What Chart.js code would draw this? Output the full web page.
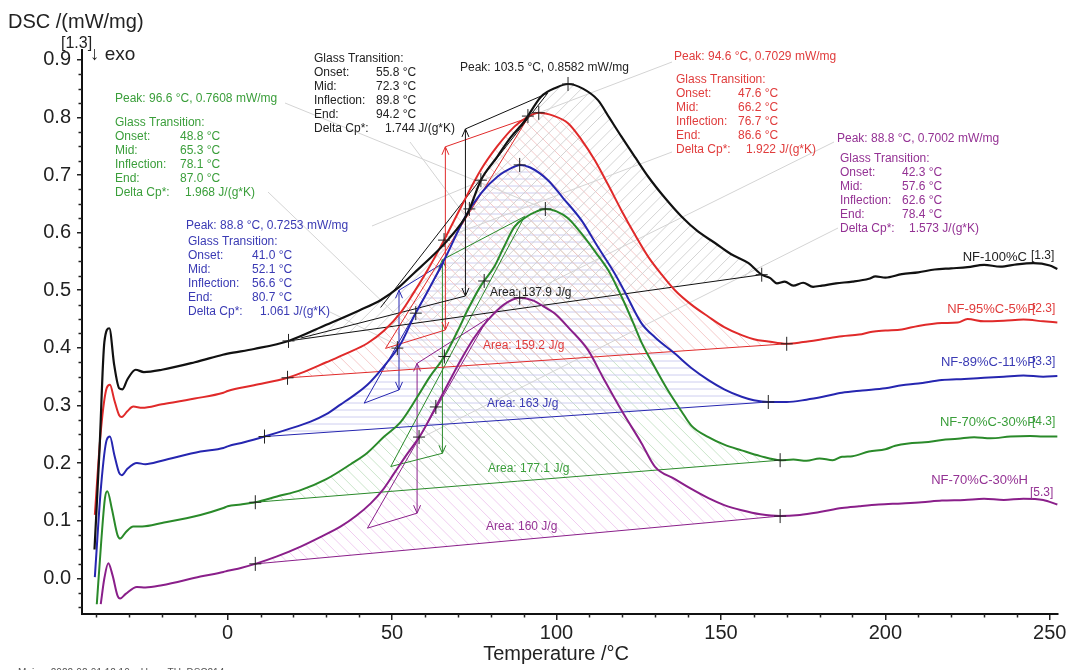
<!DOCTYPE html>
<html><head><meta charset="utf-8">
<script src="https://cdn.jsdelivr.net/npm/chart.js@4.4.1/dist/chart.umd.min.js"></script>
<style>html,body{margin:0;padding:0;background:#fff;}canvas{display:block;}</style>
</head><body>
<canvas id="c" width="1076" height="670" style="width:1076px;height:670px"></canvas>
<script>
// ---------- data ----------
const seriesNames = ['NF-100%C','NF-95%C-5%P','NF-89%C-11%P','NF-70%C-30%P','NF-70%C-30%H'];
const seriesTags  = ['[1.3]','[2.3]','[3.3]','[4.3]','[5.3]'];

const tBlack = [-40.5,-39,-37.5,-36,-34.5,-33,-32,-30.5,-28,-25.5,-20,-10,-1.5,0,8,18.5,30,40,46.6,52,56.7,62,66.9,73,77,82,86,90.2,95.3,100,103.5,108,112.6,116,119.7,124,127.9,133,138,143,148.2,153,158.4,162.4,165,167,169.4,172,175,178,180.7,185,190,195,197,200,205,210,215,220,225,230,235,240,245,250,252.3];
const vBlack = [0.05,0.22,0.41,0.434,0.37,0.33,0.328,0.345,0.362,0.358,0.362,0.375,0.388,0.390,0.398,0.412,0.44,0.465,0.483,0.505,0.53,0.558,0.587,0.634,0.691,0.732,0.765,0.793,0.836,0.852,0.858,0.85,0.83,0.80,0.767,0.73,0.697,0.66,0.628,0.602,0.582,0.563,0.547,0.527,0.521,0.512,0.515,0.508,0.513,0.506,0.508,0.512,0.515,0.52,0.524,0.522,0.528,0.531,0.536,0.538,0.54,0.544,0.541,0.545,0.547,0.543,0.537];

const tRed = [-40.4,-38.5,-36.8,-35.8,-34.5,-33,-32.2,-30.5,-28.7,-26,-20,-10,-1.3,0,8,18.2,22.2,30,36,42.5,47.6,52.7,56.5,60.8,65.8,71,77,82,87.2,91,94.6,99,103.5,107.5,111.6,115.7,119.7,124,127.9,132,136,141,146.2,151,156.3,160,164.4,170,175,180,186.8,192,196,200,205,210,217.2,222,225,230,236,242,248,252.3];
const vRed = [0.11,0.26,0.33,0.336,0.31,0.283,0.28,0.29,0.298,0.296,0.302,0.312,0.322,0.325,0.335,0.348,0.356,0.375,0.39,0.408,0.43,0.462,0.495,0.535,0.587,0.645,0.709,0.75,0.784,0.80,0.808,0.803,0.79,0.762,0.726,0.683,0.639,0.595,0.558,0.527,0.5,0.475,0.454,0.436,0.422,0.415,0.411,0.407,0.41,0.414,0.42,0.423,0.428,0.43,0.432,0.438,0.443,0.444,0.45,0.446,0.447,0.449,0.446,0.444];

const tBlue = [-40.4,-38.5,-36.8,-35.8,-34.5,-33,-32.2,-30.5,-27.6,-25,-20,-8.3,-1.3,0,5,11.2,18,25.2,30,34.4,38.5,42.5,47.5,52.7,56.7,61,66.5,72,77,82,87,88.8,92,97.4,102,107.5,112.5,117.6,120.5,125.8,130,136,141,146.2,151,156.3,160,164.4,170,176,181,186.8,193,200,205,210,217.2,224,230,236,242,248,252.3];
const vBlue = [0.002,0.16,0.24,0.246,0.215,0.183,0.179,0.19,0.2,0.198,0.204,0.22,0.226,0.229,0.236,0.246,0.258,0.272,0.285,0.302,0.318,0.336,0.368,0.408,0.455,0.5,0.56,0.625,0.668,0.697,0.714,0.7175,0.713,0.691,0.66,0.622,0.576,0.53,0.5,0.443,0.418,0.39,0.365,0.344,0.328,0.315,0.309,0.306,0.306,0.31,0.315,0.322,0.326,0.33,0.335,0.338,0.344,0.346,0.348,0.35,0.352,0.35,0.351];

const tGreen = [-39.8,-38.5,-37.3,-36.6,-35.2,-33.5,-32.7,-31,-28.7,-26,-20,-8.3,-1.3,0,4,8.4,15,22.2,30,37.4,42.5,47.6,52.7,57.7,61.5,65.9,70,73,77,81.1,84,87.2,91,94,96.6,100,103.5,107.5,112,115.7,118,120.5,123.8,125.8,130,134,138,141,146.2,151,156.3,162,168,172,176,180,184,186.8,190,195,200,203,207,212,217.2,222,227,232,238,244,248,252.3];
const vGreen = [-0.045,0.06,0.14,0.151,0.12,0.075,0.069,0.08,0.09,0.09,0.096,0.11,0.122,0.125,0.128,0.132,0.142,0.153,0.172,0.198,0.218,0.246,0.272,0.315,0.35,0.385,0.43,0.466,0.508,0.541,0.575,0.61,0.628,0.637,0.641,0.637,0.625,0.599,0.565,0.535,0.51,0.48,0.437,0.41,0.365,0.325,0.29,0.265,0.245,0.232,0.222,0.212,0.205,0.206,0.204,0.208,0.205,0.211,0.212,0.22,0.224,0.23,0.234,0.236,0.24,0.242,0.245,0.243,0.246,0.247,0.246,0.246];

const tPurple = [-38.6,-37.5,-36.3,-35,-33.5,-32.7,-31,-27.6,-25,-20,-8.3,-1.3,0,4,8.4,15,22.2,28,34.4,39,43.5,47,50.6,54.5,58.8,62.8,66.5,70.9,75,79.1,84,88.8,93,96,99.4,104,109.6,114,119.7,125.8,129.9,136,141,146.2,151,156.3,162,168,174,180,186.8,192,198,205,211,217.2,224,230,236,242,248,252.3];
const vPurple = [-0.045,0.0,0.026,0.005,-0.03,-0.035,-0.027,-0.015,-0.016,-0.012,0.003,0.011,0.013,0.018,0.025,0.038,0.055,0.071,0.09,0.108,0.13,0.152,0.182,0.215,0.25,0.292,0.332,0.379,0.418,0.448,0.475,0.487,0.482,0.472,0.46,0.433,0.396,0.35,0.292,0.235,0.194,0.172,0.155,0.139,0.127,0.118,0.111,0.108,0.11,0.115,0.122,0.125,0.128,0.13,0.132,0.135,0.136,0.138,0.136,0.138,0.136,0.128];

// evaluation results
const peakT   = [103.5, 94.6, 88.8, 96.6, 88.8];
const peakV   = [0.8582, 0.7029, 0.7253, 0.7608, 0.7002];
const gtOnset = [55.8, 47.6, 41.0, 48.8, 42.3];
const gtMid   = [72.3, 66.2, 52.1, 65.3, 57.6];
const gtInfl  = [89.8, 76.7, 56.6, 78.1, 62.6];
const gtEnd   = [94.2, 86.6, 80.7, 87.0, 78.4];
const gtDcp   = ['1.744','1.922','1.061','1.968','1.573'];
const areas   = ['137.9','159.2','163','177.1','160'];
const baseStartT = [18.5, 18.2, 11.2, 8.4, 8.4];
const baseEndT   = [162.4, 170, 164.4, 168, 168];
// glass-transition construction (arrow ends, extrapolated lines)
const gtTopV = [0.78, 0.749, 0.50, 0.553, 0.373];
const gtBotV = [0.49, 0.431, 0.327, 0.217, 0.113];
const gtLowT = [22.2, 48, 41.5, 49.6, 42.5];
const gtLowV = [0.417, 0.399, 0.304, 0.194, 0.087];
const gtTanT = [46.5, 48, 41.5, 49.6, 42.5];
const gtTanV = [0.47, 0.399, 0.304, 0.194, 0.087];
const gtUpT  = [97.3, 91.3, 65.8, 90.3, 79.1];
const gtUpV  = [0.842, 0.799, 0.548, 0.628, 0.451];
const extraCrossT = [[73.5,77,91.3],[65.8],[51.6,57.2],[65.9,78],[58.2,63.3]];

const allT = [tBlack,tRed,tBlue,tGreen,tPurple];
const allV = [vBlack,vRed,vBlue,vGreen,vPurple];

// ---------- styles ----------
const lineColors = ['#111111','#e02a2a','#2626b0','#2a8a2a','#8a1f8a'];
const textColors = ['#222222','#e03c3c','#3a3ab4','#3a9e3a','#943294'];
const hatchColors = ['#cfcfcf','#f4c4c4','#c8c8ee','#c4e2c4','#eec6ee'];
const hatchDir = ['/','\\','-','\\','\\'];
const FONT = '"Liberation Sans", Arial, sans-serif';

function interp(ts, vs, t){
  for(let i=0;i<ts.length-1;i++){
    if(t>=ts[i] && t<=ts[i+1]){const f=(t-ts[i])/(ts[i+1]-ts[i]);return vs[i]+f*(vs[i+1]-vs[i]);}
  }
  return vs[vs.length-1];
}
function txt(ctx,s,x,y,color,size,align){
  ctx.fillStyle=color; ctx.font=size+'px '+FONT; ctx.textAlign=align||'left'; ctx.textBaseline='alphabetic';
  ctx.fillText(s,x,y);
}
function seg(ctx,x1,y1,x2,y2){ctx.beginPath();ctx.moveTo(x1,y1);ctx.lineTo(x2,y2);ctx.stroke();}
function cross(ctx,x,y){ctx.strokeStyle='#222';ctx.lineWidth=1;seg(ctx,x-6,y,x+6,y);seg(ctx,x,y-7,x,y+7);}

const decor = {
  id:'decor',
  beforeDatasetsDraw(chart){
    const ctx=chart.ctx, xs=chart.scales.x, ys=chart.scales.y, a=chart.chartArea;
    const px=t=>xs.getPixelForValue(t), py=v=>ys.getPixelForValue(v);
    ctx.save();
    ctx.beginPath(); ctx.rect(a.left,a.top,a.right-a.left,a.bottom-a.top); ctx.clip();
    // hatched peak areas
    for(let i=4;i>=0;i--){
      const pts=chart.getDatasetMeta(i).data;
      const i0=allT[i].indexOf(baseStartT[i]), i1=allT[i].indexOf(baseEndT[i]);
      ctx.save();
      ctx.beginPath(); ctx.moveTo(pts[i0].x,pts[i0].y);
      for(let k=i0+1;k<=i1;k++){const p=pts[k-1],c=pts[k];ctx.bezierCurveTo(p.cp2x,p.cp2y,c.cp1x,c.cp1y,c.x,c.y);}
      ctx.closePath(); ctx.clip();
      ctx.strokeStyle=hatchColors[i]; ctx.lineWidth=0.9;
      const H=a.bottom-a.top, sp=9;
      if(hatchDir[i]==='-'){
        for(let y=a.top+3;y<a.bottom;y+=7) seg(ctx,a.left,y,a.right,y);
      } else {
        for(let x=a.left-H;x<a.right+H;x+=sp*1.3){
          if(hatchDir[i]==='/') seg(ctx,x,a.bottom,x+H,a.top); else seg(ctx,x,a.top,x+H,a.bottom);
        }
      }
      ctx.restore();
    }
    // leader lines
    ctx.strokeStyle='#d4d4d4'; ctx.lineWidth=1;
    const leaders=[
      [285,103,3,peakT[3]],[268,192,3,gtMid[3]],
      [372,226,2,peakT[2]],[330,312,2,gtMid[2]],
      [410,142,0,gtMid[0]],
      [672,62,1,peakT[1]],[672,152,1,gtMid[1]],
      [834,142,4,peakT[4]],[838,228,4,gtMid[4]]
    ];
    leaders.forEach(l=>{seg(ctx,l[0],l[1],px(l[3]),py(interp(allT[l[2]],allV[l[2]],l[3])));});
    // baselines and glass transition constructions
    for(let i=4;i>=0;i--){
      ctx.strokeStyle=lineColors[i]; ctx.lineWidth=1;
      const T=allT[i],V=allV[i];
      seg(ctx,px(baseStartT[i]),py(interp(T,V,baseStartT[i])),px(baseEndT[i]),py(interp(T,V,baseEndT[i])));
      const xm=px(gtMid[i]), yt=py(gtTopV[i]), yb=py(gtBotV[i]);
      seg(ctx,xm,yt,xm,yb);
      ctx.beginPath();ctx.moveTo(xm-3.5,yt+8);ctx.lineTo(xm,yt);ctx.lineTo(xm+3.5,yt+8);ctx.stroke();
      ctx.beginPath();ctx.moveTo(xm-3.5,yb-8);ctx.lineTo(xm,yb);ctx.lineTo(xm+3.5,yb-8);ctx.stroke();
      seg(ctx,px(gtLowT[i]),py(gtLowV[i]),xm,yb);
      seg(ctx,xm,yt,px(gtUpT[i]),py(gtUpV[i]));
      seg(ctx,px(gtTanT[i]),py(gtTanV[i]),px(gtUpT[i]),py(gtUpV[i]));
    }
    ctx.restore();
  },
  afterDatasetsDraw(chart){
    const ctx=chart.ctx, xs=chart.scales.x, ys=chart.scales.y, a=chart.chartArea;
    const px=t=>xs.getPixelForValue(t), py=v=>ys.getPixelForValue(v);
    ctx.save();
    // crosses
    for(let i=0;i<5;i++){
      const T=allT[i],V=allV[i];
      [baseStartT[i],baseEndT[i],peakT[i]].concat(extraCrossT[i]).forEach(t=>cross(ctx,px(t),py(interp(T,V,t))));
    }
    // minor ticks
    ctx.strokeStyle='#222'; ctx.lineWidth=1.5;
    for(let t=-40;t<=250;t+=10){ if(t%50===0) continue; const x=Math.round(px(t))+0.5; seg(ctx,x,a.bottom,x,a.bottom+3.5);}
    for(let k=-2;k<=36;k++){ if(k%4===0) continue; const y=Math.round(py(k*0.025))+0.5; seg(ctx,a.left-3.5,y,a.left,y);}
    // header texts
    txt(ctx,'DSC /(mW/mg)',8,28,'#222',20);
    txt(ctx,'[1.3]',61,48,'#222',16);
    txt(ctx,'\u2193 exo',90,60,'#222',19);
    // annotation blocks
    const labels=['Onset:','Mid:','Inflection:','End:','Delta Cp*:'];
    const blocks=[
      {peak:[460,71],x:314,y:62,vx:376,dx:385},
      {peak:[674,60],x:676,y:83,vx:738,dx:746},
      {peak:[186,229],x:188,y:245,vx:252,dx:260},
      {peak:[115,102],x:115,y:126,vx:180,dx:185},
      {peak:[837,142],x:840,y:162,vx:902,dx:909}
    ];
    blocks.forEach((b,i)=>{
      const c=textColors[i];
      txt(ctx,'Peak: '+peakT[i].toFixed(1)+' \u00B0C, '+peakV[i].toFixed(4)+' mW/mg',b.peak[0],b.peak[1],c,12);
      txt(ctx,'Glass Transition:',b.x,b.y,c,12);
      const vals=[gtOnset[i],gtMid[i],gtInfl[i],gtEnd[i]];
      labels.forEach((l,k)=>{
        const y=b.y+14*(k+1);
        txt(ctx,l,b.x,y,c,12);
        if(k<4) txt(ctx,vals[k].toFixed(1)+' \u00B0C',b.vx,y,c,12);
        else txt(ctx,gtDcp[i]+' J/(g*K)',b.dx,y,c,12);
      });
    });
    // area labels
    const areaPos=[[490,296],[483,349],[487,407],[488,472],[486,530]];
    areaPos.forEach((p,i)=>txt(ctx,'Area: '+areas[i]+' J/g',p[0],p[1],textColors[i],12));
    // curve names
    const namePos=[[1027,261,1031,259],[1036,313,1032,312],[1036,366,1032,365],[1036,426,1032,425],[1028,484,1030,496]];
    namePos.forEach((p,i)=>{txt(ctx,seriesNames[i],p[0],p[1],textColors[i],13,'right');txt(ctx,seriesTags[i],p[2],p[3],i===0?'#222':textColors[i],12);});
    // footer
    txt(ctx,'Main    2022-02-01 12:10    User: TU_DSC214',18,676,'#555',10);
    ctx.restore();
  }
};

const datasets = allT.map((T,i)=>({
  label: seriesNames[i],
  data: T.map((t,k)=>({x:t,y:allV[i][k]})),
  borderColor: lineColors[i],
  borderWidth: i===0?2.2:2,
  pointRadius: 0,
  fill: false,
  cubicInterpolationMode: 'monotone',
  tension: 0.4
}));

new Chart(document.getElementById('c'), {
  type: 'line',
  data: { datasets },
  options: {
    responsive: false,
    animation: false,
    devicePixelRatio: 1,
    layout: { padding: { top: 50, right: 18, left: 0, bottom: 0 } },
    plugins: { legend: { display: false }, tooltip: { enabled: false } },
    scales: {
      x: {
        type: 'linear', min: -44.3, max: 252.5,
        afterFit(s){ s.height = 56; },
        ticks: { stepSize: 50, includeBounds: false, color: '#222', padding: 1,
                 font: { family: FONT, size: 20 } },
        grid: { display: true, drawOnChartArea: false, drawTicks: true, tickLength: 6, color: '#222', lineWidth: 1.5 },
        border: { display: true, color: '#111', width: 2 },
        title: { display: true, text: 'Temperature /\u00B0C\u00A0\u00A0\u00A0\u00A0\u00A0', color: '#222',
                 font: { family: FONT, size: 20, lineHeight: 1.2 }, padding: { top: 0, bottom: 4 } }
      },
      y: {
        type: 'linear', min: -0.062, max: 0.917,
        afterFit(s){ s.width = 82; },
        ticks: { stepSize: 0.1, includeBounds: false, color: '#222', padding: 6,
                 font: { family: FONT, size: 20 }, callback: v => v.toFixed(1) },
        grid: { display: true, drawOnChartArea: false, drawTicks: true, tickLength: 5, color: '#222', lineWidth: 1.5 },
        border: { display: true, color: '#111', width: 2 }
      }
    }
  },
  plugins: [decor]
});
</script>
</body></html>
